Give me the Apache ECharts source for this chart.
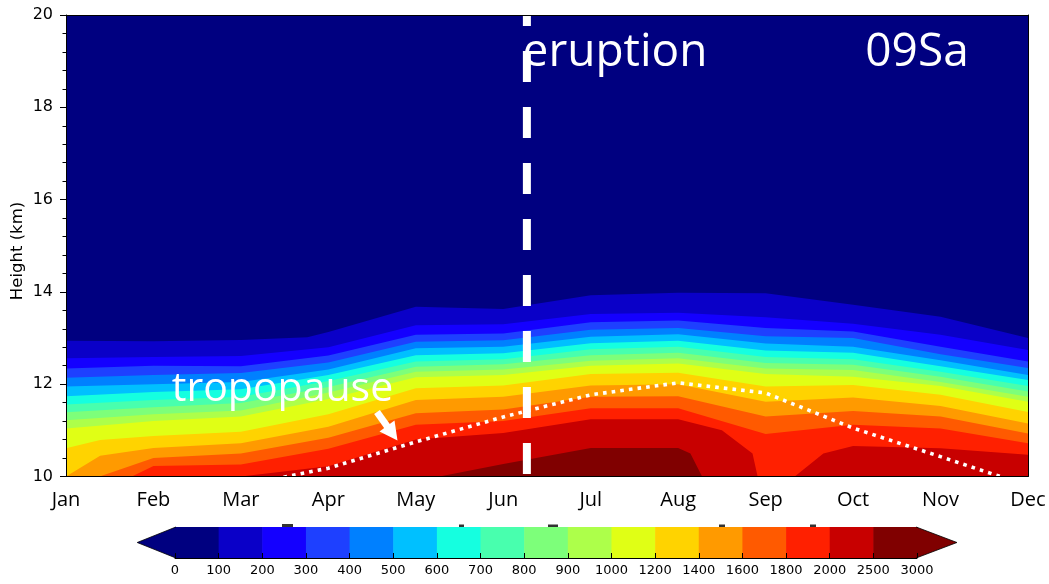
<!DOCTYPE html>
<html><head><meta charset="utf-8">
<script src="https://cdn.jsdelivr.net/npm/echarts@6/dist/echarts.min.js"></script>
<style>html,body{margin:0;padding:0;background:#fff}#c{width:1049px;height:584px}</style>
</head><body><div id="c"></div>
<script>
// ---------- data ----------
const months = ['Jan','Feb','Mar','Apr','May','Jun','Jul','Aug','Sep','Oct','Nov','Dec'];
const colorbarTicks = ['0','100','200','300','400','500','600','700','800','900','1000','1200','1400','1600','1800','2000','2500','3000'];
const bandColors = ['#000080','#0a00c8','#1400ff','#1e40ff','#0080ff','#00c0ff','#15ffe0','#48ffae','#7dff7a','#adff4a','#e0ff15','#ffd300','#ff9a00','#ff5a00','#ff2000','#c80000','#800000'];
const contourLevels = [100,200,300,400,500,600,700,800,900,1000,1200,1400,1600,1800,2000,2500];
// height (km) of each contour level, Jan..Dec
const h100  = [12.94,12.93,12.96,13.13,13.68,13.63,13.93,13.98,13.97,13.72,13.46,13.00];
const h200  = [12.56,12.59,12.61,12.80,13.28,13.30,13.52,13.55,13.45,13.31,13.07,12.74];
const h300  = [12.34,12.40,12.39,12.62,13.07,13.10,13.34,13.38,13.22,13.14,12.81,12.49];
const h400  = [12.14,12.20,12.24,12.47,12.92,12.95,13.18,13.22,13.04,13.00,12.65,12.35];
const h500  = [11.95,12.00,12.05,12.32,12.78,12.81,13.03,13.08,12.88,12.81,12.52,12.20];
const h600  = [11.74,11.83,11.89,12.20,12.63,12.67,12.89,12.94,12.73,12.68,12.39,12.09];
const h700  = [11.56,11.66,11.73,12.07,12.49,12.54,12.76,12.81,12.59,12.54,12.27,11.96];
const h800  = [11.39,11.50,11.59,11.94,12.38,12.43,12.63,12.68,12.46,12.42,12.16,11.84];
const h900  = [11.22,11.35,11.43,11.82,12.27,12.32,12.51,12.56,12.34,12.31,12.05,11.73];
const h1000 = [11.04,11.20,11.30,11.68,12.15,12.20,12.40,12.45,12.22,12.16,11.96,11.62];
const h1200 = [10.61,10.88,10.97,11.35,11.91,11.97,12.22,12.25,11.95,11.98,11.77,11.40];
const h1400 = [10.00,10.62,10.72,11.08,11.66,11.73,11.97,12.00,11.62,11.71,11.53,11.15];
const h1600 = [9.75,10.40,10.50,10.84,11.37,11.45,11.73,11.74,11.30,11.42,11.30,10.93];
const h1800 = [9.30,10.23,10.26,10.60,11.12,11.20,11.48,11.48,10.92,11.12,11.04,10.72];
const h2000 = [9.00,9.70,10.00,10.22,10.80,10.94,11.24,11.24,9.60,10.66,10.61,10.47];
const h2500 = [8.50,9.30,9.50,9.70,9.90,10.27,10.62,10.62,9.00,9.50,9.50,9.50];
// extra contour vertices between months [month, km]
const extra100  = [[2.76,13.02]];
const extra1200 = [[0.39,10.79]];
const extra1400 = [[0.39,10.45]];
const extra2000 = [[7.5,11.0],[7.85,10.5],[7.92,9.9],[8.3,9.95],[8.66,10.5]];
const extra2500 = [[7.14,10.5],[7.3,9.9]];
// tropopause height (km), Mar..Dec
const tropopauseMonths = [2,3,4,5,6,7,8,9,10,11];
const tropopauseKm = [9.8,10.18,10.75,11.29,11.77,12.03,11.81,11.05,10.43,9.8];
const eruptionMonth = 5.27;

// ---------- build ----------
const levelHeights = [h100,h200,h300,h400,h500,h600,h700,h800,h900,h1000,h1200,h1400,h1600,h1800,h2000,h2500];
const levelExtras = {100:extra100,1200:extra1200,1400:extra1400,2000:extra2000,2500:extra2500};
function pts(arr, lvl){
  const p = arr.map((h,i)=>[i,h]);
  (levelExtras[lvl]||[]).forEach(e=>p.push(e));
  p.sort((a,b)=>a[0]-b[0]);
  return p;
}
const series = [];
contourLevels.forEach((lvl, i) => {
  series.push({
    type:'line', xAxisIndex:0, yAxisIndex:0, data: pts(levelHeights[i], lvl),
    symbol:'none', silent:true, clip:true,
    lineStyle:{width:0, opacity:0},
    areaStyle:{color: bandColors[i+1], opacity:1, origin:'start'}
  });
});
series.push({
  type:'line', xAxisIndex:0, yAxisIndex:0,
  data: tropopauseMonths.map((m,i)=>[m, tropopauseKm[i]]),
  symbol:'none', silent:true, clip:true, z:5,
  lineStyle:{color:'#fff', width:3.6, type:[3.6,5.1], cap:'butt'}
});
series.push({
  type:'line', xAxisIndex:0, yAxisIndex:0,
  data: [[eruptionMonth,10],[eruptionMonth,20]],
  symbol:'none', silent:true, z:6,
  lineStyle:{color:'#fff', width:8, type:[31,25], dashOffset:53.5, cap:'butt'}
});
// colorbar
series.push({
  type:'custom', xAxisIndex:2, yAxisIndex:2, silent:true,
  data: bandColors.map((c,i)=>[i]),
  renderItem: (params, api) => {
    const i = api.value(0);
    const p0 = api.coord([i,1]), p1 = api.coord([i+1,0]);
    return {type:'rect', shape:{x:p0[0], y:p0[1], width:p1[0]-p0[0]+0.6, height:p1[1]-p0[1]},
      style:{fill: bandColors[i]}};
  }
});
series.push({
  type:'custom', xAxisIndex:2, yAxisIndex:2, silent:true,
  data: [[0],[1]],
  renderItem: (params, api) => {
    const side = api.value(0);
    const n = bandColors.length;
    let poly, col;
    if (side === 0) {
      poly = [api.coord([0.02,1]), api.coord([-0.865,0.5]), api.coord([0.02,0])];
      col = bandColors[0];
    } else {
      poly = [api.coord([n-0.02,1]), api.coord([n+0.915,0.5]), api.coord([n-0.02,0])];
      col = bandColors[n-1];
    }
    return {type:'group', children:[
      {type:'polygon', shape:{points:poly}, style:{fill:col}},
      {type:'polyline', shape:{points:poly}, style:{stroke:'#000', lineWidth:0.8, fill:null}}
    ]};
  }
});

const chart = echarts.init(document.getElementById('c'), null, {renderer:'canvas'});
const markStyle = {fill:'#333'};
chart.setOption({
  animation:false,
  backgroundColor:'#fff',
  grid:[
    {left:66, right:21, top:15, bottom:107.5, show:true, backgroundColor:'#000080', borderWidth:0},
    {left:175, right:132, top:527, height:31}
  ],
  xAxis:[
    {type:'value', gridIndex:0, min:0, max:11, interval:1, z:10,
     axisLine:{show:true, lineStyle:{color:'#000', width:1}},
     axisTick:{show:false}, splitLine:{show:false},
     axisLabel:{formatter:v=>months[v]||'', fontFamily:'"Open Sans"', fontSize:20, color:'#000', margin:14}},
    {type:'value', gridIndex:0, position:'top', min:0, max:11, z:10,
     axisLine:{show:true, onZero:false, lineStyle:{color:'#000', width:1}},
     axisTick:{show:false}, axisLabel:{show:false}, splitLine:{show:false}},
    {type:'value', gridIndex:1, min:0, max:17, interval:1, z:10,
     axisLine:{show:true, lineStyle:{color:'#000', width:1}},
     axisTick:{show:true, inside:true, length:5, lineStyle:{color:'#000', width:1}},
     splitLine:{show:false},
     axisLabel:{formatter:v=>colorbarTicks[v]||'', fontFamily:'"DejaVu Sans"', fontSize:13, color:'#000', margin:6}}
  ],
  yAxis:[
    {type:'value', gridIndex:0, min:10, max:20, interval:2, z:10,
     axisLine:{show:true, lineStyle:{color:'#000', width:1}},
     axisTick:{show:true, length:6, lineStyle:{color:'#000'}},
     minorTick:{show:true, splitNumber:5, length:3.5, lineStyle:{color:'#000'}},
     splitLine:{show:false},
     axisLabel:{fontFamily:'"DejaVu Sans"', fontSize:16, color:'#000', margin:13}},
    {type:'value', gridIndex:0, position:'right', min:10, max:20, z:10,
     axisLine:{show:true, onZero:false, lineStyle:{color:'#000', width:1}},
     axisTick:{show:false}, axisLabel:{show:false}, splitLine:{show:false}},
    {type:'value', gridIndex:1, min:0, max:1, show:false}
  ],
  series: series,
  graphic:[
    {type:'text', x:17.5, y:251, rotation:Math.PI/2, z:20, silent:true,
     style:{text:'Height (km)', fill:'#000', font:'16.5px "DejaVu Sans"', textAlign:'center', textVerticalAlign:'middle', align:'center', verticalAlign:'middle'}},
    {type:'text', x:615, y:53, z:20, silent:true,
     style:{text:'eruption', fill:'#fff', font:'46px "Open Sans"', textAlign:'center', textVerticalAlign:'middle', align:'center', verticalAlign:'middle'}},
    {type:'text', x:917, y:53, z:20, silent:true,
     style:{text:'09Sa', fill:'#fff', font:'46px "Open Sans"', textAlign:'center', textVerticalAlign:'middle', align:'center', verticalAlign:'middle'}},
    {type:'text', x:282.5, y:389, z:20, silent:true,
     style:{text:'tropopause', fill:'#fff', font:'41px "Open Sans"', textAlign:'center', textVerticalAlign:'middle', align:'center', verticalAlign:'middle'}},
    {type:'line', z:20, silent:true, shape:{x1:377, y1:412, x2:388, y2:427.5},
     style:{stroke:'#fff', lineWidth:7}},
    {type:'polygon', z:20, silent:true, shape:{points:[[397.5,440.5],[379.5,431.5],[394.5,420.5]]},
     style:{fill:'#fff'}},
    {type:'rect', z:20, silent:true, shape:{x:282, y:524, width:11, height:3}, style:markStyle},
    {type:'rect', z:20, silent:true, shape:{x:459, y:524.5, width:5, height:2.5}, style:markStyle},
    {type:'rect', z:20, silent:true, shape:{x:548, y:524.5, width:10, height:2.5}, style:markStyle},
    {type:'rect', z:20, silent:true, shape:{x:719, y:524.5, width:6, height:2.5}, style:markStyle},
    {type:'rect', z:20, silent:true, shape:{x:810, y:524.5, width:6, height:2.5}, style:markStyle}
  ]
});
</script>
</body></html>
